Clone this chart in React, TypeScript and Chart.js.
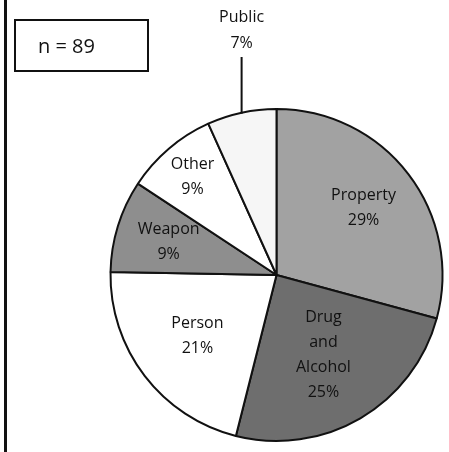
import React, { useEffect, useRef } from "react";
import { Chart, registerables } from "chart.js";

Chart.register(...registerables);

const categories = ["Property", "Drug and Alcohol", "Person", "Weapon", "Other", "Public"];
const labelLines = [["Property", "29%"], ["Drug", "and", "Alcohol", "25%"], ["Person", "21%"], ["Weapon", "9%"], ["Other", "9%"], ["Public", "7%"]];
const counts = [26, 22, 19, 8, 8, 6];
const sampleSize = 89;

const fills = ["#a2a2a2", "#6e6e6e", "#ffffff", "#8e8e8e", "#ffffff", "#f6f6f6"];
const labelRadius = [0.66, 0.56, 0.6, 0.68, 0.78, -1];

const framePlugin = {
  id: "frame",
  beforeDraw(chart: any) {
    const ctx = chart.ctx;
    ctx.save();
    ctx.fillStyle = "#fff";
    ctx.fillRect(0, 0, chart.width, chart.height);
    ctx.fillStyle = "#111";
    ctx.fillRect(4, 0, 3, chart.height);
    ctx.restore();
  },
};

const labelPlugin = {
  id: "sliceLabels",
  afterDatasetsDraw(chart: any) {
    const ctx = chart.ctx;
    const meta = chart.getDatasetMeta(0);
    ctx.save();
    ctx.fillStyle = "#111";
    ctx.font = "16px 'Open Sans', sans-serif";
    ctx.textAlign = "center";
    ctx.textBaseline = "middle";
    const lh = 25;
    meta.data.forEach((arc: any, i: number) => {
      const p = arc.getProps(["x", "y", "startAngle", "endAngle", "outerRadius"], true);
      const mid = (p.startAngle + p.endAngle) / 2;
      const lines = labelLines[i];
      if (labelRadius[i] > 0) {
        const r = p.outerRadius * labelRadius[i];
        const cx = p.x + Math.cos(mid) * r;
        const cy = p.y + Math.sin(mid) * r;
        const y0 = cy - ((lines.length - 1) * lh) / 2;
        lines.forEach((t, k) => ctx.fillText(t, cx, y0 + k * lh));
      } else {
        const ex = p.x + Math.cos(mid) * p.outerRadius;
        const ey = p.y + Math.sin(mid) * p.outerRadius;
        const lx = ex;
        ctx.strokeStyle = "#111";
        ctx.lineWidth = 2;
        ctx.beginPath();
        ctx.moveTo(lx, ey + 1);
        ctx.lineTo(lx, 57);
        ctx.stroke();
        ctx.fillText(lines[0], lx, 17);
        ctx.fillText(lines[1], lx, 43);
      }
    });
    ctx.restore();
  },
};

export default function App() {
  const ref = useRef<HTMLCanvasElement>(null);
  useEffect(() => {
    if (!ref.current) return;
    const chart = new Chart(ref.current, {
      type: "pie",
      data: {
        labels: categories,
        datasets: [
          {
            data: counts,
            backgroundColor: fills,
            borderColor: "#111",
            borderWidth: 2,
          },
        ],
      },
      options: {
        responsive: false,
        animation: false,
        layout: { padding: { left: 109, right: 5, top: 108, bottom: 10 } },
        plugins: { legend: { display: false }, tooltip: { enabled: false } },
      },
      plugins: [framePlugin, labelPlugin],
    });
    return () => chart.destroy();
  }, []);
  return (
    <div style={{ position: "absolute", left: 0, top: 0, width: 449, height: 452, background: "#fff", overflow: "hidden" }}>
      <canvas ref={ref} width={449} height={452} style={{ position: "absolute", left: 0, top: 0, display: "block" }} />
      <div
        style={{
          position: "absolute",
          left: 14,
          top: 19,
          width: 109,
          height: 49,
          border: "2px solid #111",
          fontFamily: "'Open Sans', sans-serif",
          fontSize: 20,
          lineHeight: "49px",
          paddingLeft: 22,
          boxSizing: "content-box",
          color: "#111",
          zIndex: 2,
        }}
      >
        {"n = " + sampleSize}
      </div>
    </div>
  );
}
